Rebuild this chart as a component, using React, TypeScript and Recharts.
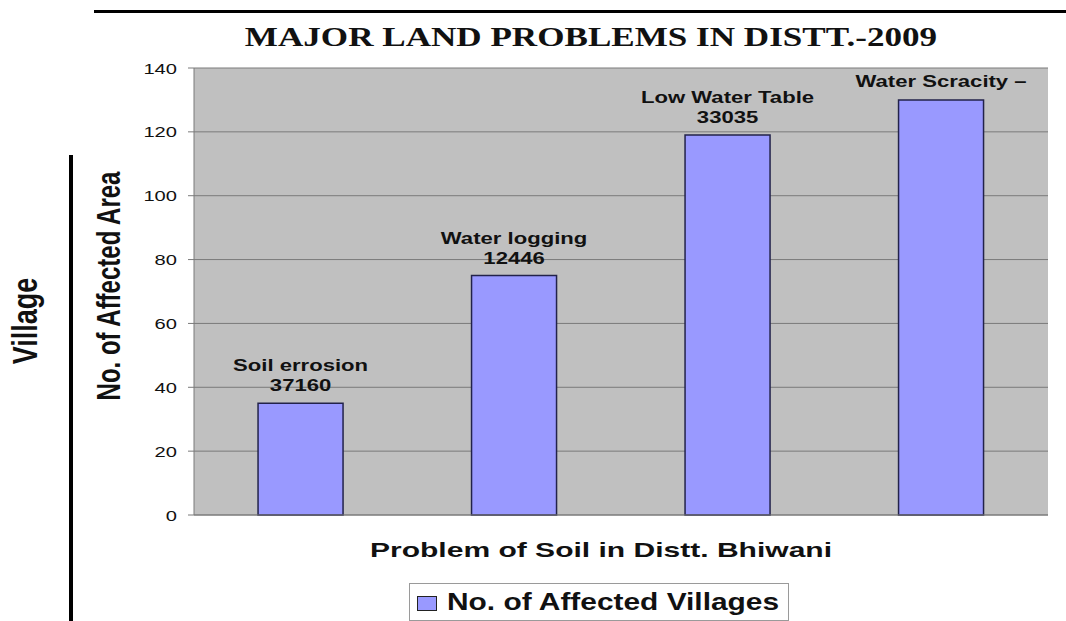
import React from 'react'
import { BarChart, Bar, XAxis, YAxis, CartesianGrid, LabelList, Legend } from 'recharts'

// values
const problems = ['Soil errosion', 'Water logging', 'Low Water Table', 'Water Scracity –']
const areaCodes = ['37160', '12446', '33035', '']
const affectedVillages = [35, 75, 119, 130]
const yTicks = [0, 20, 40, 60, 80, 100, 120, 140]

const data = problems.map((name, i) => ({
  name,
  code: areaCodes[i],
  villages: affectedVillages[i],
}))

const SANS = '"Liberation Sans", Arial, sans-serif'
const SERIF = '"Liberation Serif", "Times New Roman", serif'
// the source picture is stretched sideways, so text gets a horizontal scale
const SX = 1.3

interface StretchedProps {
  x: number
  y: number
  size: number
  weight?: string
  anchor?: 'start' | 'middle' | 'end'
  sx?: number
  family?: string
  rotate?: boolean
  children?: React.ReactNode
}

const Stretched = ({
  x,
  y,
  size,
  weight = 'normal',
  anchor = 'middle',
  sx = SX,
  family = SANS,
  rotate = false,
  children,
}: StretchedProps) => (
  <text
    transform={`translate(${x},${y}) scale(${sx},1)${rotate ? ' rotate(-90)' : ''}`}
    textAnchor={anchor}
    fontSize={size}
    fontWeight={weight}
    fontFamily={family}
    fill="#111"
  >
    {children}
  </text>
)

const renderYTick = (props: any) => {
  const { x, y, payload } = props
  return (
    <Stretched x={x} y={y + 5.5} size={15.5} anchor="end">
      {payload.value}
    </Stretched>
  )
}

const renderName = (props: any) => {
  const { x, y, width, value } = props
  const i = problems.indexOf(value)
  const single = !areaCodes[i]
  return (
    <Stretched x={x + width / 2} y={y - (single ? 13 : 32)} size={17} weight="bold">
      {value}
    </Stretched>
  )
}

const renderCode = (props: any) => {
  const { x, y, width, value } = props
  if (!value) return null
  return (
    <Stretched x={x + width / 2} y={y - 12} size={17} weight="bold">
      {value}
    </Stretched>
  )
}

const renderXTitle = () => (
  <Stretched x={601} y={557} size={21} weight="bold" sx={1.43}>
    Problem of Soil in Distt. Bhiwani
  </Stretched>
)

const renderYTitle = () => (
  <Stretched x={120} y={286} size={24} weight="bold" sx={1.4} rotate>
    No. of Affected Area
  </Stretched>
)

const renderLegend = (props: any) => {
  const item = props.payload?.[0]
  if (!item) return null
  return (
    <svg width={380} height={38}>
      <rect x={0.5} y={0.5} width={379} height={37} fill="#fff" stroke="#9a9a9a" />
      <rect x={8.5} y={13.5} width={19} height={14} fill={item.color} stroke="#222" />
      <Stretched x={38} y={27} size={23} weight="bold" anchor="start">
        {item.value}
      </Stretched>
    </svg>
  )
}

export default function App() {
  return (
    <div style={{ position: 'absolute', left: 0, top: 0, width: 1066, height: 621, background: '#fff' }}>
      <BarChart
        width={1066}
        height={621}
        data={data}
        margin={{ top: 68, right: 18, bottom: 0, left: 0 }}
        barCategoryGap="30%"
      >
        <CartesianGrid vertical={false} stroke="#7a7a7a" fill="#c0c0c0" fillOpacity={1} />
        <XAxis
          dataKey="name"
          height={106}
          tick={false}
          tickLine={false}
          axisLine={{ stroke: '#7a7a7a' }}
          label={{ content: renderXTitle }}
        />
        <YAxis
          width={194}
          domain={[0, 140]}
          ticks={yTicks}
          interval={0}
          tickSize={6}
          tickMargin={11}
          tick={renderYTick}
          axisLine={{ stroke: '#7a7a7a' }}
          tickLine={{ stroke: '#7a7a7a' }}
          label={{ content: renderYTitle }}
        />
        <YAxis
          yAxisId="frame"
          orientation="right"
          width={0}
          domain={[0, 140]}
          tick={false}
          tickLine={false}
          axisLine={{ stroke: '#a0a0a0' }}
        />
        <Legend
          layout="horizontal"
          verticalAlign="middle"
          align="center"
          content={renderLegend}
          wrapperStyle={{ position: 'absolute', left: 409, top: 583, width: 380, height: 38 }}
        />
        <Bar
          dataKey="villages"
          name="No. of Affected Villages"
          fill="#9999ff"
          stroke="#22224a"
          strokeWidth={1.5}
          isAnimationActive={false}
        >
          <LabelList dataKey="name" content={renderName} />
          <LabelList dataKey="code" content={renderCode} />
        </Bar>
      </BarChart>
      <svg
        width={1066}
        height={621}
        style={{ position: 'absolute', left: 0, top: 0, pointerEvents: 'none' }}
      >
        <rect x={94} y={10} width={972} height={3} fill="#000" />
        <rect x={69} y={155} width={4} height={466} fill="#000" />
        <Stretched x={591} y={46} size={27} weight="bold" family={SERIF}>
          MAJOR LAND PROBLEMS IN DISTT.-2009
        </Stretched>
        <Stretched x={37} y={321} size={27} weight="bold" rotate>
          Village
        </Stretched>
      </svg>
    </div>
  )
}
